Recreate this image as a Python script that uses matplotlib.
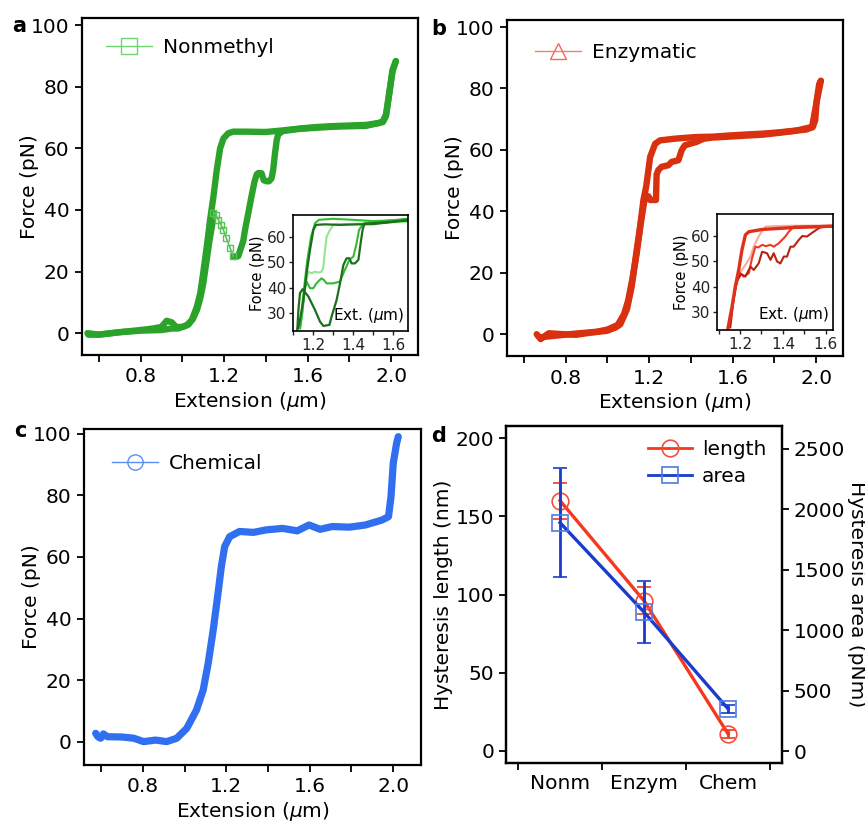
import matplotlib
matplotlib.use("Agg")
import matplotlib.pyplot as plt
from matplotlib.lines import Line2D

plt.rcParams['font.family'] = ['DejaVu Sans']
plt.rcParams['mathtext.fontset'] = 'dejavusans'

# ---------------- data ----------------
# (a) Nonmethyl force-extension cycle
nm_ext_stretch = [0.546, 0.60, 0.70, 0.80, 0.86, 0.90, 0.925, 0.95, 0.97, 1.00, 1.03, 1.046, 1.07, 1.086, 1.10,
                  1.117, 1.133, 1.149, 1.165, 1.181, 1.197, 1.22, 1.244, 1.30, 1.40, 1.48, 1.56, 1.64, 1.72,
                  1.80, 1.88, 1.94, 1.96, 1.975, 1.99, 2.006, 2.022]
nm_force_stretch = [0.0, -0.5, 0.3, 1.0, 1.5, 2.0, 4.0, 3.5, 2.0, 2.0, 2.8, 4.3, 8.6, 13.0, 19.5,
                    28.0, 36.8, 44.3, 53.0, 60.0, 63.2, 64.9, 65.4, 65.4, 65.3, 65.8, 66.4, 66.9, 67.2,
                    67.4, 67.6, 68.2, 68.8, 71.0, 77.8, 85.4, 88.3]
nm_ext_relax = [2.022, 2.006, 1.99, 1.975, 1.96, 1.88, 1.72, 1.56, 1.48, 1.459, 1.452, 1.443, 1.435, 1.427,
                1.415, 1.403, 1.39, 1.379, 1.365, 1.356, 1.345, 1.33, 1.316, 1.30, 1.292, 1.28, 1.268, 1.255,
                1.244]
nm_force_relax = [88.3, 85.0, 77.5, 70.5, 68.5, 67.3, 67.0, 66.3, 65.6, 64.5, 62.7, 58.0, 53.0, 50.2,
                  49.3, 49.3, 49.6, 51.9, 52.0, 51.5, 49.0, 44.0, 39.0, 33.5, 30.0, 27.5, 25.0, 24.7,
                  24.9]
nm_ext_dip = [1.244, 1.229, 1.21, 1.197, 1.185, 1.173, 1.16, 1.149]
nm_force_dip = [24.9, 27.6, 31.0, 33.5, 35.2, 36.8, 38.5, 39.0]
nm_ext_tail = [1.149, 1.145, 1.13, 1.115, 1.10, 1.085, 1.07, 1.05, 1.02, 0.98, 0.95, 0.90, 0.80, 0.70,
               0.60, 0.55]
nm_force_tail = [39.0, 36.0, 30.0, 23.0, 16.0, 11.0, 7.5, 4.5, 2.5, 1.5, 1.5, 1.0, 0.8, 0.3, -0.5, -0.5]

# (a) inset traces
nmi_ext_s = [1.122, 1.132, 1.152, 1.168, 1.185, 1.202, 1.215, 1.26, 1.335, 1.42, 1.502, 1.58, 1.668]
nmi_force_s = [23.5, 26.0, 35.1, 45.7, 54.9, 62.8, 64.8, 65.0, 64.8, 65.0, 65.1, 65.8, 66.7]
nmi_ext_d = [1.668, 1.55, 1.46, 1.455, 1.448, 1.438, 1.427, 1.41, 1.393, 1.382, 1.368, 1.352, 1.335,
             1.318, 1.293, 1.282, 1.252, 1.235, 1.21, 1.177, 1.148, 1.135, 1.127, 1.122]
nmi_force_d = [66.5, 65.8, 65.2, 64.8, 62.8, 57.5, 51.0, 49.6, 49.6, 51.6, 51.6, 49.0, 41.7,
               35.1, 28.6, 25.3, 24.9, 26.6, 31.2, 36.5, 39.4, 37.9, 31.2, 24.0]
nmi_ext_m = [1.668, 1.55, 1.455, 1.448, 1.43, 1.418, 1.402, 1.382, 1.352, 1.335, 1.30, 1.268, 1.255,
             1.243, 1.23, 1.215, 1.202, 1.185, 1.168, 1.158, 1.148, 1.135]
nmi_force_m = [67.0, 66.3, 65.5, 64.8, 62.8, 57.5, 52.3, 51.0, 45.7, 42.4, 41.7, 41.7, 43.0,
               43.7, 42.8, 41.5, 39.8, 39.8, 42.4, 39.1, 31.2, 24.0]
nmi_ext_ms = [1.135, 1.15, 1.17, 1.19, 1.21, 1.23, 1.30, 1.40, 1.50, 1.60, 1.668]
nmi_force_ms = [24.0, 36.0, 50.0, 60.0, 65.5, 66.8, 67.2, 66.8, 66.3, 66.6, 67.2]
nmi_ext_l = [1.668, 1.50, 1.40, 1.32, 1.302, 1.285, 1.268, 1.26, 1.252, 1.243, 1.225, 1.21, 1.193,
             1.177, 1.16, 1.15, 1.143, 1.135]
nmi_force_l = [66.0, 65.5, 65.2, 65.0, 64.8, 62.8, 60.1, 54.9, 48.3, 46.3, 46.0, 46.3, 45.7,
               46.3, 40.4, 33.0, 27.3, 24.0]

# (b) Enzymatic force-extension cycle
en_ext_stretch = [0.662, 0.681, 0.72, 0.79, 0.85, 0.92, 0.998, 1.04, 1.062, 1.094, 1.117, 1.141, 1.157,
                  1.173, 1.186, 1.205, 1.229, 1.252, 1.33, 1.427, 1.50, 1.586, 1.66, 1.744, 1.82, 1.903,
                  1.95, 1.983, 1.995, 2.002, 2.014, 2.022]
en_force_stretch = [0.0, -1.6, 0.3, 0.0, -0.2, 0.5, 1.1, 2.2, 3.2, 8.1, 15.6, 27.5, 35.0,
                    43.7, 48.0, 57.7, 62.0, 63.1, 63.7, 64.2, 64.3, 64.7, 65.0, 65.3, 65.7, 66.3,
                    66.6, 67.4, 69.6, 76.0, 81.4, 82.5]
en_ext_relax = [2.022, 2.00, 1.98, 1.90, 1.75, 1.60, 1.50, 1.459, 1.427, 1.371, 1.356, 1.34, 1.308,
                1.292, 1.26, 1.244, 1.236, 1.233, 1.205, 1.197, 1.181, 1.16, 1.14, 1.12, 1.10, 1.08,
                1.05, 1.00, 0.95, 0.85, 0.75, 0.68]
en_force_relax = [82.5, 75.0, 67.5, 66.2, 65.0, 64.4, 64.0, 63.6, 62.6, 61.5, 59.9, 56.6, 56.1,
                  55.0, 54.5, 53.4, 52.0, 43.7, 43.7, 44.9, 45.0, 36.0, 26.0, 18.0, 11.0, 6.5,
                  3.0, 1.5, 0.8, 0.2, -0.5, -1.0]

# (b) inset traces
eni_ext_s = [1.144, 1.163, 1.178, 1.194, 1.209, 1.225, 1.241, 1.303, 1.40, 1.458, 1.55, 1.621, 1.633]
eni_force_s = [23.6, 32.1, 40.0, 46.6, 54.5, 60.4, 61.7, 62.6, 63.1, 63.4, 63.6, 63.9, 63.9]
eni_ext_d = [1.633, 1.58, 1.567, 1.536, 1.512, 1.49, 1.473, 1.45, 1.435, 1.419, 1.404, 1.388, 1.373,
             1.357, 1.342, 1.326, 1.303, 1.287, 1.264, 1.249, 1.225, 1.205, 1.185, 1.17, 1.155]
eni_force_d = [63.8, 63.5, 63.1, 61.3, 59.8, 60.0, 58.4, 55.8, 55.8, 51.9, 51.9, 49.2, 49.9,
               53.2, 50.6, 53.2, 53.8, 49.2, 46.6, 47.9, 44.0, 45.0, 42.0, 35.0, 24.0]
eni_ext_m = [1.633, 1.50, 1.45, 1.427, 1.411, 1.38, 1.357, 1.342, 1.32, 1.303, 1.285, 1.272, 1.256,
             1.241, 1.217, 1.20, 1.18, 1.165, 1.15]
eni_force_m = [63.9, 63.8, 63.7, 61.7, 59.8, 57.1, 55.8, 56.5, 56.0, 56.5, 55.5, 55.8, 51.2,
               45.3, 44.0, 45.5, 40.0, 32.0, 24.0]
eni_ext_l = [1.633, 1.40, 1.33, 1.318, 1.303, 1.287, 1.264, 1.249, 1.225, 1.209, 1.195, 1.18, 1.165,
             1.15]
eni_force_l = [64.2, 64.0, 63.8, 63.7, 62.0, 59.8, 55.8, 51.9, 48.6, 46.6, 45.5, 40.0, 32.0, 24.0]

# (c) Chemical force-extension trace
ch_ext = [0.573, 0.585, 0.597, 0.61, 0.629, 0.70, 0.756, 0.803, 0.86, 0.914, 0.962, 1.01, 1.057, 1.089,
          1.113, 1.137, 1.16, 1.176, 1.192, 1.216, 1.263, 1.33, 1.39, 1.47, 1.54, 1.597, 1.65, 1.708,
          1.79, 1.867, 1.946, 1.978, 1.99, 2.001, 2.017, 2.025]
ch_force = [2.7, 1.5, 1.1, 2.5, 1.6, 1.5, 1.1, 0.0, 0.5, 0.0, 1.1, 4.3, 10.3, 16.8,
            25.5, 36.3, 48.2, 56.9, 63.4, 66.6, 68.3, 68.0, 68.8, 69.3, 68.5, 70.4, 69.0, 69.9,
            69.7, 70.4, 72.0, 73.1, 79.6, 90.5, 97.0, 99.1]

# (d) hysteresis summary
groups = ['Nonm', 'Enzym', 'Chem']
hyst_length = [160, 96, 11]
hyst_length_err = [11.5, 8.5, 2.7]
hyst_area = [1890, 1150, 350]
hyst_area_err = [450, 260, 32]

# ---------------- styling helpers ----------------
GREEN = '#2ba32b'
RED = '#d9300f'
BLUE = '#2f6ff0'
FS = 14.5
W, H = 865, 824


def frac(left, top, right, bottom):
    return [left / W, 1 - bottom / H, (right - left) / W, (bottom - top) / H]


def style_force_axes(ax):
    for s in ax.spines.values():
        s.set_linewidth(1.6)
    ax.set_xlim(0.52, 2.128)
    ax.set_ylim(-7.1, 102.3)
    ax.set_xticks([0.8, 1.2, 1.6, 2.0])
    ax.set_xticks([0.6, 1.0, 1.4, 1.8], minor=True)
    ax.set_yticks([0, 20, 40, 60, 80, 100])
    ax.tick_params(which='both', direction='out', length=5, width=1.3, labelsize=FS,
                   top=False, right=False, pad=4)
    ax.set_xlabel(r'Extension ($\mu$m)', fontsize=FS)
    ax.set_ylabel('Force (pN)', fontsize=FS)
    ax.yaxis.set_label_coords(-0.128, 0.5)
    ax.xaxis.set_label_coords(0.5, -0.105)


def style_inset(ax, xlim):
    for s in ax.spines.values():
        s.set_linewidth(1.2)
    ax.set_xlim(*xlim)
    ax.set_ylim(22.9, 68.7)
    ax.set_xticks([1.2, 1.4, 1.6])
    ax.set_xticks([1.1, 1.3, 1.5], minor=True)
    ax.set_yticks([30, 40, 50, 60])
    ax.tick_params(which='both', direction='out', length=3, width=1.0, labelsize=11,
                   top=False, right=False, pad=2, colors='#222222')
    ax.set_ylabel('Force (pN)', fontsize=10.5, labelpad=1)
    ax.text(0.97, 0.05, r'Ext. ($\mu$m)', transform=ax.transAxes, ha='right', va='bottom',
            fontsize=11)


def trace(ax, x, y, color, lw=4.6):
    ax.plot(x, y, color=color, lw=lw, solid_joinstyle='round', solid_capstyle='round')


fig = plt.figure(figsize=(W / 100, H / 100), dpi=100)

# ---------------- (a) ----------------
ax_a = fig.add_axes(frac(82, 18, 418, 355))
trace(ax_a, nm_ext_stretch, nm_force_stretch, GREEN)
trace(ax_a, nm_ext_relax, nm_force_relax, GREEN)
trace(ax_a, nm_ext_tail, nm_force_tail, GREEN)
ax_a.plot(nm_ext_dip, nm_force_dip, color='#58c458', lw=1.2, marker='s', ms=4,
          mfc='none', mec='#58c458', mew=1.0)
style_force_axes(ax_a)
h_a = Line2D([], [], color='#6cd66c', lw=1.0, marker='s', ms=11, mfc='none', mec='#6cd66c', mew=1.0)
ax_a.legend([h_a], ['Nonmethyl'], loc='center left', bbox_to_anchor=(0.07, 0.911), frameon=False,
            fontsize=FS, handlelength=2.3, handletextpad=0.55, borderpad=0, borderaxespad=0)

ins_a = fig.add_axes(frac(293, 215, 408, 331))
ins_a.plot(nmi_ext_l, nmi_force_l, color='#8fe88f', lw=1.5)
ins_a.plot(nmi_ext_ms, nmi_force_ms, color='#33bb33', lw=1.5)
ins_a.plot(nmi_ext_m, nmi_force_m, color='#33bb33', lw=1.5)
ins_a.plot(nmi_ext_s, nmi_force_s, color='#1d6e1d', lw=1.6)
ins_a.plot(nmi_ext_d, nmi_force_d, color='#1d6e1d', lw=1.6)
style_inset(ins_a, (1.1, 1.675))

# ---------------- (b) ----------------
ax_b = fig.add_axes(frac(507, 20, 843, 356))
trace(ax_b, en_ext_stretch, en_force_stretch, RED)
trace(ax_b, en_ext_relax, en_force_relax, RED)
style_force_axes(ax_b)
h_b = Line2D([], [], color='#f08070', lw=1.0, marker='^', ms=12, mfc='none', mec='#f06a58', mew=1.0)
ax_b.legend([h_b], ['Enzymatic'], loc='center left', bbox_to_anchor=(0.083, 0.902), frameon=False,
            fontsize=FS, handlelength=2.3, handletextpad=0.55, borderpad=0, borderaxespad=0)

ins_b = fig.add_axes(frac(717, 214, 833, 330))
ins_b.plot(eni_ext_l, eni_force_l, color='#f6aaa0', lw=1.5)
ins_b.plot(eni_ext_m, eni_force_m, color='#ee3a22', lw=1.5)
ins_b.plot(eni_ext_d, eni_force_d, color='#b8220f', lw=1.5)
ins_b.plot(eni_ext_s, eni_force_s, color='#e0301a', lw=2.4)
style_inset(ins_b, (1.093, 1.633))

# ---------------- (c) ----------------
ax_c = fig.add_axes(frac(84, 429, 421, 765))
trace(ax_c, ch_ext, ch_force, BLUE, lw=5.2)
style_force_axes(ax_c)
ax_c.set_xlim(0.517, 2.134)
ax_c.set_ylim(-7.6, 101.6)
h_c = Line2D([], [], color='#5a8df5', lw=1.0, marker='o', ms=11, mfc='none', mec='#5a8df5', mew=1.0)
ax_c.legend([h_c], ['Chemical'], loc='center left', bbox_to_anchor=(0.083, 0.896), frameon=False,
            fontsize=FS, handlelength=2.3, handletextpad=0.55, borderpad=0, borderaxespad=0)

# ---------------- (d) ----------------
ax_d = fig.add_axes(frac(506, 426, 782, 763))
ax_r = ax_d.twinx()
xpos = list(range(len(groups)))
LRED = '#f5381e'
DBLUE = '#1a3ccc'
ax_d.errorbar(xpos, hyst_length, yerr=hyst_length_err, color=LRED, lw=2.4, capsize=5,
              capthick=2.0, elinewidth=2.0, marker='o', ms=12, mfc='none', mec='#f2503c', mew=1.2,
              zorder=2)
ax_r.errorbar(xpos, hyst_area, yerr=hyst_area_err, color=DBLUE, lw=2.4, capsize=5,
              capthick=2.0, elinewidth=2.0, marker='s', ms=12, mfc='none', mec='#4d7ae6', mew=1.2,
              zorder=3)
ax_d.set_xlim(-0.643, 2.643)
ax_d.set_ylim(-7.7, 207.7)
ax_r.set_ylim(-99, 2690)
ax_d.set_yticks([0, 50, 100, 150, 200])
ax_r.set_yticks([0, 500, 1000, 1500, 2000, 2500])
ax_d.set_xticks([-0.5, 0.5, 1.5, 2.5])
ax_d.set_xticklabels([])
ax_d.set_xticks(xpos, minor=True)
ax_d.set_xticklabels(groups, minor=True)
ax_d.tick_params(which='major', direction='out', length=5, width=1.3, labelsize=FS, top=False)
ax_d.tick_params(axis='x', which='minor', length=0, labelsize=FS, pad=8)
ax_r.tick_params(direction='out', length=5, width=1.3, labelsize=FS)
for a in (ax_d, ax_r):
    for s in a.spines.values():
        s.set_linewidth(1.6)
ax_d.set_ylabel('Hysteresis length (nm)', fontsize=FS)
ax_d.yaxis.set_label_coords(-0.192, 0.5)
ax_r.set_ylabel('Hysteresis area (pNm)', fontsize=FS, rotation=270, va='bottom')
ax_r.yaxis.set_label_coords(1.235, 0.5)
hl = Line2D([], [], color=LRED, lw=2.0, marker='o', ms=12, mfc='none', mec='#f2503c', mew=1.2)
ha = Line2D([], [], color=DBLUE, lw=2.0, marker='s', ms=12, mfc='none', mec='#4d7ae6', mew=1.2)
ax_r.legend([hl, ha], ['length', 'area'], loc='center left', bbox_to_anchor=(0.514, 0.889),
            frameon=False, fontsize=FS, handlelength=2.2, handletextpad=0.5, borderpad=0,
            borderaxespad=0, labelspacing=0.4)

# panel letters
for letter, x, y in [('a', 12, 32), ('b', 431, 35), ('c', 14, 437), ('d', 431, 442)]:
    fig.text(x / W, 1 - y / H, letter, fontsize=15, fontweight='bold', va='baseline', ha='left')

fig.savefig('out.png', dpi=100)
